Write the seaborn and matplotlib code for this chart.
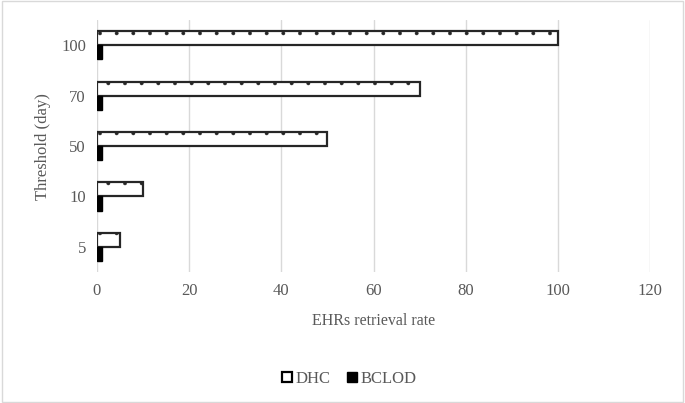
import matplotlib
matplotlib.use("Agg")
import matplotlib.pyplot as plt
import seaborn as sns
import pandas as pd
from matplotlib.patches import Rectangle, Patch

# Data
thresholds = ["100", "70", "50", "10", "5"]
dhc = [100, 70, 50, 10, 5]
bclod = [1, 1, 1, 1, 1]
methods = ["DHC", "BCLOD"]

df = pd.DataFrame({
    "Threshold": thresholds * 2,
    "Rate": dhc + bclod,
    "Method": ["DHC"] * len(thresholds) + ["BCLOD"] * len(thresholds),
})

sns.set_style("white")
plt.rcParams["font.family"] = ["Liberation Serif", "DejaVu Serif"]
plt.rcParams["hatch.linewidth"] = 0.3

fig = plt.figure(figsize=(6.85, 4.03), dpi=100)
ax = fig.add_axes([0.1416, 0.325, 0.8074, 0.625])

sns.barplot(
    data=df, x="Rate", y="Threshold", hue="Method",
    order=thresholds, hue_order=methods, orient="h",
    width=0.56, ax=ax, legend=False,
)

n = len(thresholds)
for i, bar in enumerate(ax.patches[: 2 * n]):
    if i < n:
        bar.set_facecolor("white")
        bar.set_edgecolor("#262626")
        bar.set_linewidth(1.6)
        bar.set_hatch(".")
    else:
        bar.set_facecolor("black")
        bar.set_edgecolor("black")
        bar.set_linewidth(1.0)

ax.set_xlim(0, 120)
ax.set_xticks(range(0, 121, 20))
ax.grid(axis="x", color="#d9d9d9", linewidth=1)
ax.set_axisbelow(True)
for s in ax.spines.values():
    s.set_visible(False)
ax.tick_params(axis="both", length=0, labelsize=12, colors="#595959", pad=8)
ax.set_xlabel("EHRs retrieval rate", fontsize=11.5, color="#595959", labelpad=10)
ax.set_ylabel("Threshold (day)", fontsize=12, color="#595959", labelpad=7)

handles = [
    Patch(facecolor="white", edgecolor="black", linewidth=1.6, label="DHC"),
    Patch(facecolor="black", edgecolor="black", label="BCLOD"),
]
fig.legend(handles=handles, loc="center", bbox_to_anchor=(0.51, 0.06), ncol=2,
           frameon=False, fontsize=12, handlelength=0.6, handleheight=0.6,
           handletextpad=0.2, columnspacing=1.0, labelcolor="#595959")

fig.patches.append(Rectangle((0.003, 0.003), 0.994, 0.994, transform=fig.transFigure,
                             fill=False, edgecolor="#d9d9d9", linewidth=1))

fig.savefig("out.png", dpi=100)
